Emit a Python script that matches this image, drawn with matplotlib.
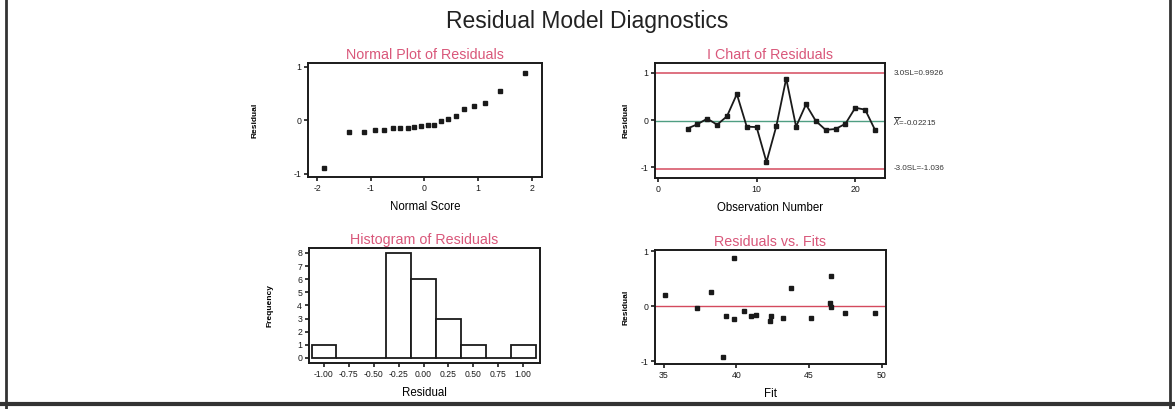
import matplotlib
matplotlib.use("Agg")
import matplotlib.pyplot as plt
from matplotlib.lines import Line2D
from statistics import NormalDist
import numpy as np

plt.rcParams['font.family'] = ['Liberation Sans', 'DejaVu Sans']
plt.rcParams['axes.unicode_minus'] = False

# ---- data ----
observation = list(range(3, 23))
residuals = [-0.18, -0.09, 0.03, -0.10, 0.08, 0.55, -0.14, -0.15, -0.89, -0.13,
             0.88, -0.14, 0.33, -0.02, -0.21, -0.19, -0.08, 0.26, 0.22, -0.21]
ucl = 0.9926
center = -0.02215
lcl = -1.036
ucl_label = "3.0SL=0.9926"
center_label = r"$\overline{X}$=-0.02215"
lcl_label = "-3.0SL=-1.036"

hist_centers = [-1.00, -0.75, -0.50, -0.25, 0.00, 0.25, 0.50, 0.75, 1.00]
hist_counts = [1, 0, 0, 8, 6, 3, 1, 0, 1]
hist_tick_labels = ["-1.00", "-0.75", "-0.50", "-0.25", "0.00", "0.25", "0.50", "0.75", "1.00"]

fit_values = [35.07, 37.29, 38.28, 39.08, 39.31, 39.84, 39.82, 40.51, 41.04, 41.38,
              42.41, 42.34, 43.21, 43.74, 45.12, 46.49, 46.42, 46.53, 47.46, 49.57]
fit_residuals = [0.21, -0.03, 0.25, -0.92, -0.17, 0.87, -0.24, -0.09, -0.18, -0.16,
                 -0.17, -0.27, -0.21, 0.33, -0.22, 0.55, 0.05, -0.01, -0.12, -0.12]

# ---- styling ----
TITLE_C = '#d9577a'
RED = '#d44a5e'
GREEN = '#4f9e82'
INK = '#1a1a1a'

fig = plt.figure(figsize=(11.75, 4.09), dpi=100)
fig.patch.set_facecolor('white')

# outer frame (left, right, bottom)
for xs, ys, lw in [([0.0055, 0.0055], [0.0, 1.0], 2.0),
                   ([0.9955, 0.9955], [0.0, 1.0], 2.0),
                   ([0.0, 1.0], [0.012, 0.012], 3.0)]:
    fig.add_artist(Line2D(xs, ys, transform=fig.transFigure, color='#333333', lw=lw))

fig.text(0.5, 0.948, "Residual Model Diagnostics", ha='center', va='center',
         fontsize=16.5, color='#222222')


def style(ax):
    for s in ax.spines.values():
        s.set_linewidth(1.4)
        s.set_color(INK)
    ax.tick_params(direction='out', length=3, width=1.2, labelsize=6.3, colors=INK, pad=2)


TITLE_FS = 10.3
XL_PAD = 6

# Normal plot
ax1 = fig.add_axes([0.2621, 0.5672, 0.1991, 0.2787])
n = len(residuals)
sorted_res = sorted(residuals)
nd = NormalDist()
scores = [nd.inv_cdf((i + 1 - 0.375) / (n + 0.25)) for i in range(n)]
ax1.plot(scores, sorted_res, linestyle='none', marker='s', ms=2.6, color=INK)
ax1.set_xlim(-2.17, 2.19)
ax1.set_ylim(-1.06, 1.07)
ax1.set_xticks([-2, -1, 0, 1, 2])
ax1.set_yticks([-1, 0, 1])
style(ax1)
ax1.set_title("Normal Plot of Residuals", color=TITLE_C, fontsize=TITLE_FS, pad=3)
ax1.set_xlabel("Normal Score", fontsize=8.3, labelpad=XL_PAD)
ax1.set_ylabel("Residual", fontsize=6, labelpad=25, fontweight='bold')

# I chart
ax2 = fig.add_axes([0.5574, 0.5648, 0.1957, 0.2812])
ax2.axhline(ucl, color=RED, lw=1.1)
ax2.axhline(lcl, color=RED, lw=1.1)
ax2.axhline(center, color=GREEN, lw=1.0)
ax2.plot(observation, residuals, color=INK, lw=1.3, marker='s', ms=2.4)
ax2.set_xlim(-0.3, 23.0)
ax2.set_ylim(-1.23, 1.21)
ax2.set_xticks([0, 10, 20])
ax2.set_yticks([-1, 0, 1])
style(ax2)
ax2.set_title("I Chart of Residuals", color=TITLE_C, fontsize=TITLE_FS, pad=3)
ax2.set_xlabel("Observation Number", fontsize=8.3, labelpad=XL_PAD)
ax2.set_ylabel("Residual", fontsize=6, labelpad=8, fontweight='bold')
for val, lab in [(ucl, ucl_label), (center, center_label), (lcl, lcl_label)]:
    ax2.annotate(lab, xy=(1.0, val), xycoords=('axes fraction', 'data'),
                 xytext=(6, 0), textcoords='offset points', va='center',
                 ha='left', fontsize=5.8, color='#333333')

# Histogram
ax3 = fig.add_axes([0.2630, 0.1125, 0.1966, 0.2812])
ax3.bar(hist_centers, hist_counts, width=0.25, facecolor='white',
        edgecolor=INK, linewidth=1.3)
ax3.set_xlim(-1.15, 1.17)
ax3.set_ylim(-0.38, 8.38)
ax3.set_xticks(hist_centers)
ax3.set_xticklabels(hist_tick_labels)
ax3.set_yticks(range(0, 9))
style(ax3)
ax3.tick_params(axis='x', labelsize=6.2)
ax3.set_title("Histogram of Residuals", color=TITLE_C, fontsize=TITLE_FS, pad=3)
ax3.set_xlabel("Residual", fontsize=8.3, labelpad=XL_PAD)
ax3.set_ylabel("Frequency", fontsize=6, labelpad=17, fontweight='bold')

# Residuals vs fits
ax4 = fig.add_axes([0.5574, 0.1100, 0.1966, 0.2787])
ax4.axhline(0, color=RED, lw=1.0)
ax4.plot(fit_values, fit_residuals, linestyle='none', marker='s', ms=2.6, color=INK)
ax4.set_xlim(34.4, 50.3)
ax4.set_ylim(-1.05, 1.02)
ax4.set_xticks([35, 40, 45, 50])
ax4.set_yticks([-1, 0, 1])
style(ax4)
ax4.set_title("Residuals vs. Fits", color=TITLE_C, fontsize=TITLE_FS, pad=3)
ax4.set_xlabel("Fit", fontsize=8.3, labelpad=XL_PAD)
ax4.set_ylabel("Residual", fontsize=6, labelpad=8, fontweight='bold')

fig.savefig("out.png", dpi=100, facecolor='white')
